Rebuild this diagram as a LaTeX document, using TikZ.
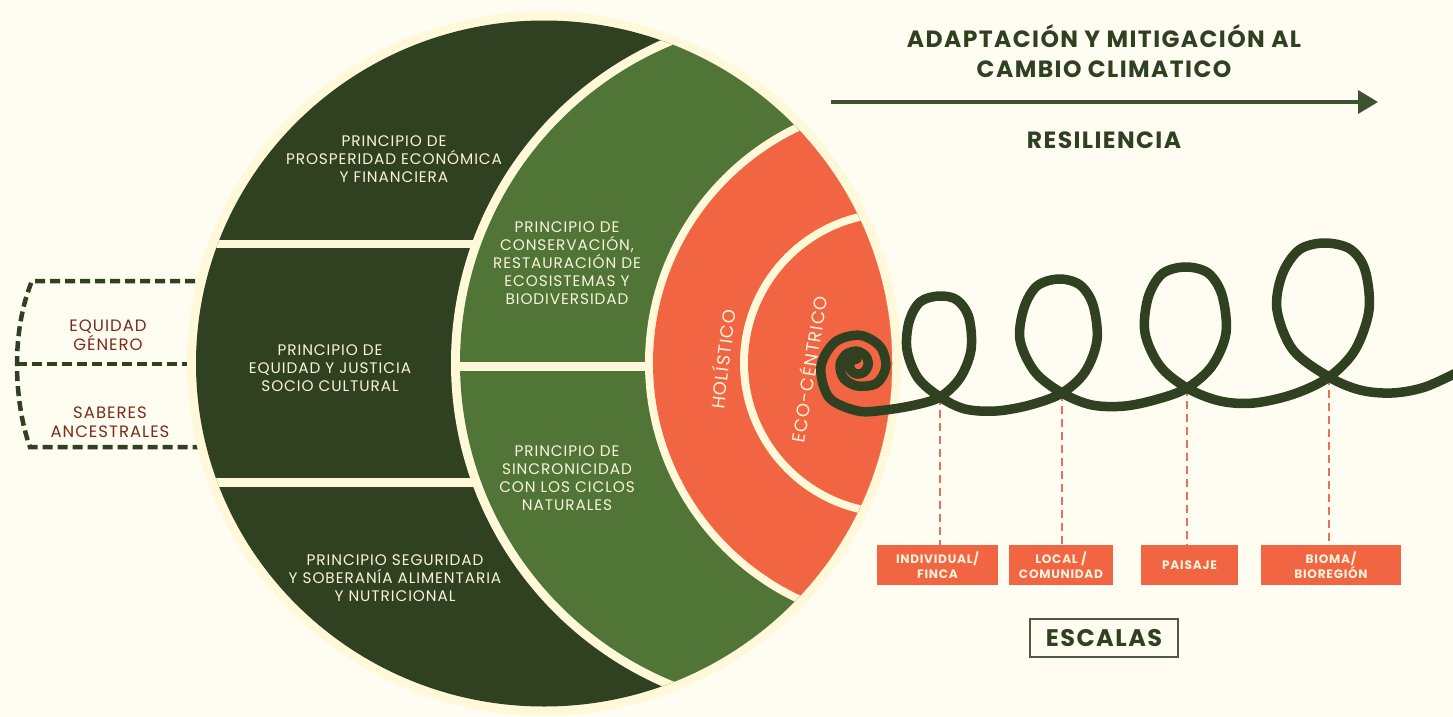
\documentclass[tikz,border=0pt]{standalone}
\usepackage{fontspec}
\setmainfont{Poppins}[LetterSpace=6]
\usetikzlibrary{arrows.meta,positioning,calc}
\definecolor{bgcream}{HTML}{FFFDF1}
\definecolor{ringcream}{HTML}{FFF8D9}
\definecolor{dkgreen}{HTML}{2F4120}
\definecolor{mdgreen}{HTML}{517537}
\definecolor{coral}{HTML}{F26543}
\definecolor{txtcream}{HTML}{FAF3DC}
\definecolor{rust}{HTML}{7A2C1B}
\definecolor{arrowgreen}{HTML}{3E5230}
\definecolor{dashred}{HTML}{E5715A}
\definecolor{boxline}{HTML}{4B5B40}
\tikzstyle{prin}=[text=txtcream, align=center, font=\fontsize{15.3}{18}\selectfont, inner sep=0pt]
\tikzstyle{side}=[text=rust, align=center, font=\fontsize{16.5}{19.5}\selectfont, inner sep=0pt]
\tikzstyle{ring}=[text=txtcream, font=\fontsize{18}{18}\selectfont, inner sep=0pt]
\tikzstyle{head}=[text=dkgreen, align=center, font=\bfseries\fontsize{23.5}{30}\selectfont, inner sep=0pt]
\tikzstyle{lvl}=[fill=coral, text=txtcream, align=center, font=\bfseries\fontsize{12.2}{15}\selectfont, minimum height=40pt, inner sep=0pt]
\tikzstyle{bracket}=[dkgreen, line width=4.5pt, dash pattern=on 10pt off 5pt]
\tikzstyle{drop}=[dashred, line width=2pt, dash pattern=on 8pt off 5pt]
\tikzstyle{coil}=[dkgreen, line width=9.5pt, line cap=round, line join=round]
\begin{document}
\begin{tikzpicture}[x=1pt,y=-1pt]
\useasboundingbox (0,0) rectangle (1453,717);
\fill[bgcream] (0,0) rectangle (1453,717);

\coordinate (bt) at (240,281);
\coordinate (tl) at (32,281);
\coordinate (ml) at (17,364);
\coordinate (bl) at (30,447);
\coordinate (bb) at (240,447);
\coordinate (bm) at (240,364);
\draw[bracket] (bt) -- (tl) .. controls (22,305) and (17,335) .. (ml) .. controls (17,395) and (22,425) .. (bl) -- (bb);
\draw[bracket] (ml) -- (bm);

\fill[ringcream] (544,363.5) ellipse [x radius=357, y radius=352];
\begin{scope}
\clip (544,363.5) ellipse [x radius=348, y radius=343];
\fill[dkgreen] (0,0) rectangle (1453,717);
\fill[ringcream] (180,240) rectangle (700,248);
\fill[ringcream] (180,478) rectangle (700,487);
\fill[ringcream] (804,363) circle (353);
\fill[mdgreen] (804,363) circle (344);
\fill[ringcream] (455,362) rectangle (800,371);
\fill[ringcream] (910,363) circle (265);
\fill[coral] (910,363) circle (257);
\fill[ringcream] (894,363) circle (154);
\fill[coral] (894,363) circle (146);
\end{scope}

\node (prosp) [prin] at (394,159) {PRINCIPIO DE\\PROSPERIDAD ECONÓMICA\\Y FINANCIERA};
\node (equi) [prin] at (330,368) {PRINCIPIO DE\\EQUIDAD Y JUSTICIA\\SOCIO CULTURAL};
\node (segu) [prin] at (395,578) {PRINCIPIO SEGURIDAD\\Y SOBERANÍA ALIMENTARIA\\Y NUTRICIONAL};
\node (cons) [prin] at (567,263) {PRINCIPIO DE\\CONSERVACIÓN,\\RESTAURACIÓN DE\\ECOSISTEMAS Y\\BIODIVERSIDAD};
\node (sinc) [prin] at (567,478) {PRINCIPIO DE\\SINCRONICIDAD\\CON LOS CICLOS\\NATURALES};
\node (hol) [ring, rotate=83] at (722,359) {HOLÍSTICO};
\node (eco) [ring, rotate=81] at (808,369) {ECO-CÉNTRICO};

\node (gen) [side] at (108,335) {EQUIDAD\\GÉNERO};
\node (sab) [side] at (110,422) {SABERES\\ANCESTRALES};

\node (title) [head] at (1104,51) {ADAPTACIÓN Y MITIGACIÓN AL\\CAMBIO CLIMATICO};
\node (res) [head] at (1104,140) {RESILIENCIA};
\coordinate (as) at (831,102);
\coordinate (ae) at (1378,102);
\draw[arrowgreen, line width=3.5pt, -{Triangle[length=20pt,width=23pt]}] (as) -- (ae);

\node (b1) [lvl, minimum width=121pt] at (937.5,565) {INDIVIDUAL/\\FINCA};
\node (b2) [lvl, minimum width=104pt] at (1061,565) {LOCAL /\\COMUNIDAD};
\node (b3) [lvl, minimum width=97pt] at (1189.5,565) {PAISAJE};
\node (b4) [lvl, minimum width=140pt] at (1331,565) {BIOMA/\\BIOREGIÓN};
\node (esc) [draw=boxline, line width=1.5pt, text=dkgreen, font=\bfseries\fontsize{24}{24}\selectfont, minimum width=148pt, minimum height=38pt] at (1104,638) {ESCALAS};

\coordinate (c1) at (940,397);
\coordinate (c2) at (1062,393);
\coordinate (c3) at (1187,388);
\coordinate (c4) at (1329,377);
\draw[drop] (c1) -- (c1 |- b1.north);
\draw[drop] (c2) -- (c2 |- b2.north);
\draw[drop] (c3) -- (c3 |- b3.north);
\draw[drop] (c4) -- (c4 |- b4.north);

\draw[coil] plot[smooth, tension=0.55] coordinates {
(857,359) (852.3,360.3) (849.6,365) (851.2,370.8) (857,374.1) (864.1,372.1)
(868.2,365) (865.8,356.2) (857,351.2) (846.2,354.2) (840,365) (843.7,378.3)
(857,385.9) (876.4,383.4) (885.8,367) (880.2,346.8) (860,335.3) (835.1,342.1)
(820.9,367) (829.3,397.7) (858,411) (885,410) (915,405)
(940,397) (960,378) (971,350) (969,318) (957,300) (939,296) (920,302) (909,322) (907,350) (918,378)
(940,397) (965,409) (996,411) (1030,405)
(1062,393) (1085,372) (1097,340) (1093,305) (1080,285) (1059,279) (1037,286) (1024,308) (1020,340) (1035,372)
(1062,393) (1092,405) (1125,406) (1158,399)
(1187,388) (1212,366) (1226,333) (1222,295) (1208,273) (1185,267) (1162,274) (1148,298) (1145,333) (1160,366)
(1187,388) (1220,401) (1254,403) (1294,394)
(1329,377) (1355,350) (1369,310) (1365,270) (1350,249) (1324,243) (1299,250) (1282,275) (1277,310) (1293,350)
(1329,377) (1360,390) (1392,393) (1425,387) (1462,370)};
\end{tikzpicture}
\end{document}
